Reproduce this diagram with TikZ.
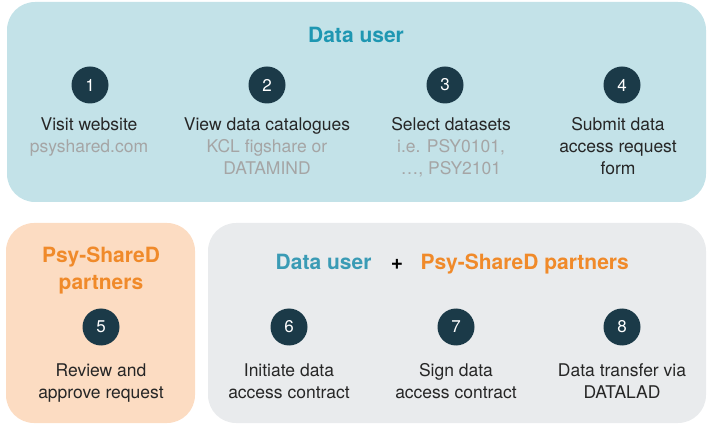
\documentclass[tikz,border=0pt]{standalone}
\usepackage{fontspec}
\setmainfont{TeX Gyre Heros}
\definecolor{userbg}{HTML}{C3E2E8}
\definecolor{partnerbg}{HTML}{FCDCC2}
\definecolor{jointbg}{HTML}{E9EBED}
\definecolor{userteal}{HTML}{1E97B2}
\definecolor{userteal2}{HTML}{3A9BB5}
\definecolor{partnerorange}{HTML}{F08A2A}
\definecolor{stepdark}{HTML}{1B3A48}
\definecolor{hintgray}{HTML}{A5A5A5}

\begin{document}
\begin{tikzpicture}[x=1pt,y=-1pt,
    panel/.style={rounded corners=28pt},
    num/.style={circle,fill=stepdark,text=white,minimum size=37pt,inner sep=0pt,
      font=\fontsize{17}{17}\selectfont},
    txt/.style={align=center,anchor=base,text=black!85,
      font=\fontsize{17.5}{22}\selectfont},
    hd/.style={anchor=base,font=\fontsize{21}{27}\bfseries\selectfont}]
  \useasboundingbox (0,0) rectangle (709,427);

  % panels
  \fill[userbg,panel] (7,2) rectangle (706,202);
  \fill[partnerbg,panel] (6,223) rectangle (195,423);
  \fill[jointbg,panel] (208,223) rectangle (706,423);

  % data user steps (text nodes sit on the baseline of their last line)
  \node[hd,text=userteal] (userhd) at (356,43) {Data user};
  \node[num] (s1) at (90,85) {1};
  \node[num] (s2) at (267,85) {2};
  \node[num] (s3) at (445,85) {3};
  \node[num] (s4) at (622,85) {4};
  \node[txt] (t1) at (89,153) {Visit website\\\textcolor{hintgray}{psyshared.com}};
  \node[txt] (t2) at (267,175) {View data catalogues\\\textcolor{hintgray}{KCL figshare or}\\\textcolor{hintgray}{DATAMIND}};
  \node[txt] (t3) at (451,175) {Select datasets\\\textcolor{hintgray}{i.e. PSY0101,}\\\textcolor{hintgray}{\dots, PSY2101}};
  \node[txt] (t4) at (618,175) {Submit data\\access request\\form};

  % partners
  \node[hd,text=partnerorange,align=center] (partnerhd) at (101,290) {Psy-ShareD\\partners};
  \node[num] (s5) at (101,327) {5};
  \node[txt] (t5) at (101,398) {Review and\\approve request};

  % both together
  \node[hd,text=userteal2,anchor=base east] (jointuser) at (375,270) {Data user};
  \node[hd] (plus) at (397,270) {+};
  \node[hd,text=partnerorange,anchor=base west] (jointpartner) at (417,270) {Psy-ShareD partners};
  \node[num] (s6) at (289,327) {6};
  \node[num] (s7) at (456,327) {7};
  \node[num] (s8) at (622,327) {8};
  \node[txt] (t6) at (289,398) {Initiate data\\access contract};
  \node[txt] (t7) at (456,398) {Sign data\\access contract};
  \node[txt] (t8) at (622,398) {Data transfer via\\DATALAD};
\end{tikzpicture}
\end{document}
